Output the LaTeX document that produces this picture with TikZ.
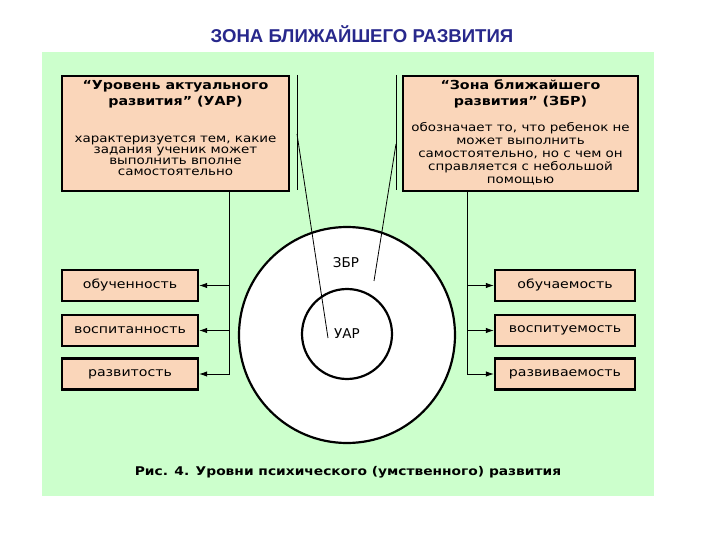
\documentclass[tikz,border=0pt]{standalone}
\usepackage{fontspec}
\setmainfont{DejaVu Sans}
\newfontfamily\boxfont[FakeStretch=1.15]{DejaVu Sans}
\newfontfamily\headfont{Liberation Sans}
\usetikzlibrary{arrows.meta}
\definecolor{panelgreen}{RGB}{204,255,204}
\definecolor{peach}{RGB}{250,214,186}
\definecolor{navy}{RGB}{40,40,140}
\begin{document}
\begin{tikzpicture}[x=1pt,y=-1pt,
  bigbox/.style={draw=black,line width=2.4pt,fill=peach,rectangle,inner sep=0pt,minimum height=115pt},
  smallbox/.style={draw=black,line width=2.4pt,fill=peach,rectangle,inner sep=0pt,minimum height=31pt,font=\boxfont\fontsize{12.3}{14}\selectfont},
  headtxt/.style={font=\boxfont\bfseries\fontsize{12.4}{16}\selectfont,align=center,inner sep=0pt},
  bodytxt/.style={font=\boxfont\fontsize{11.7}{11}\selectfont,align=center,inner sep=0pt},
  thinline/.style={line width=0.8pt},
  arr/.style={line width=0.8pt,-{Latex[length=8pt,width=5.5pt]}},
  ring/.style={circle,draw=black,line width=2.2pt,fill=white,inner sep=0pt},
  ringtxt/.style={font=\fontsize{13.5}{15}\selectfont,inner sep=0pt}
]
\useasboundingbox (0,0) rectangle (720,540);
\fill[white] (0,0) rectangle (720,540);
\fill[panelgreen] (42,52) rectangle (654,496);

\node[font=\headfont\bfseries\fontsize{18.6}{20}\selectfont,text=navy] (title) at (362,34) {ЗОНА БЛИЖАЙШЕГО РАЗВИТИЯ};

% top boxes
\node[bigbox,minimum width=227pt] (uar) at (175.5,133.5) {};
\node[bigbox,minimum width=235pt] (zbr) at (520.5,133.5) {};
\node[headtxt] (uarhead) at (175.5,94) {“Уровень актуального\\развития” (УАР)};
\node[bodytxt] (uarbody) at (175.5,156) {характеризуется тем, какие\\задания ученик может\\выполнить вполне\\самостоятельно};
\node[headtxt] (zbrhead) at (520.5,94) {“Зона ближайшего\\развития” (ЗБР)};
\node[bodytxt,font=\boxfont\fontsize{11.7}{13}\selectfont] (zbrbody) at (520.5,153.5) {обозначает то, что ребенок не\\может выполнить\\самостоятельно, но с чем он\\справляется с небольшой\\помощью};

% circles
\node[ring,minimum size=216pt] (outer) at (347,335) {};
\node[ring,minimum size=90pt] (inner) at (347,334) {};
\node[ringtxt] (zbrlabel) at (346,263) {ЗБР};
\node[ringtxt] (uarlabel) at (347,334) {УАР};

% callout lines
\coordinate (lt) at (297,75);
\coordinate (lb) at (297,190);
\coordinate (ls) at (297,134);
\coordinate (le) at (328,338);
\coordinate (rt) at (396,75);
\coordinate (rb) at (396,190);
\coordinate (rs) at (396,144);
\coordinate (re) at (374,281);
\draw[thinline] (lt) -- (lb);
\draw[thinline] (ls) -- (le);
\draw[thinline] (rt) -- (rb);
\draw[thinline] (rs) -- (re);

% small boxes
\node[smallbox,minimum width=136pt] (l1) at (130,285.5) {обученность};
\node[smallbox,minimum width=136pt] (l2) at (130,330.5) {воспитанность};
\node[smallbox,minimum width=136pt] (l3) at (130,374) {развитость};
\node[smallbox,minimum width=140pt] (r1) at (565,285.5) {обучаемость};
\node[smallbox,minimum width=140pt] (r2) at (565,330.5) {воспитуемость};
\node[smallbox,minimum width=140pt] (r3) at (565,374) {развиваемость};

% trunks and arrows
\coordinate (ltrunk) at (229,191);
\coordinate (rtrunk) at (467,191);
\draw[arr] (ltrunk) |- (l1.east);
\draw[arr] (ltrunk) |- (l2.east);
\draw[arr] (ltrunk) |- (l3.east);
\draw[arr] (rtrunk) |- (r1.west);
\draw[arr] (rtrunk) |- (r2.west);
\draw[arr] (rtrunk) |- (r3.west);

\node[font=\boxfont\bfseries\fontsize{12}{13}\selectfont] (caption) at (348,472) {Рис. 4. Уровни психического (умственного) развития};
\end{tikzpicture}
\end{document}
